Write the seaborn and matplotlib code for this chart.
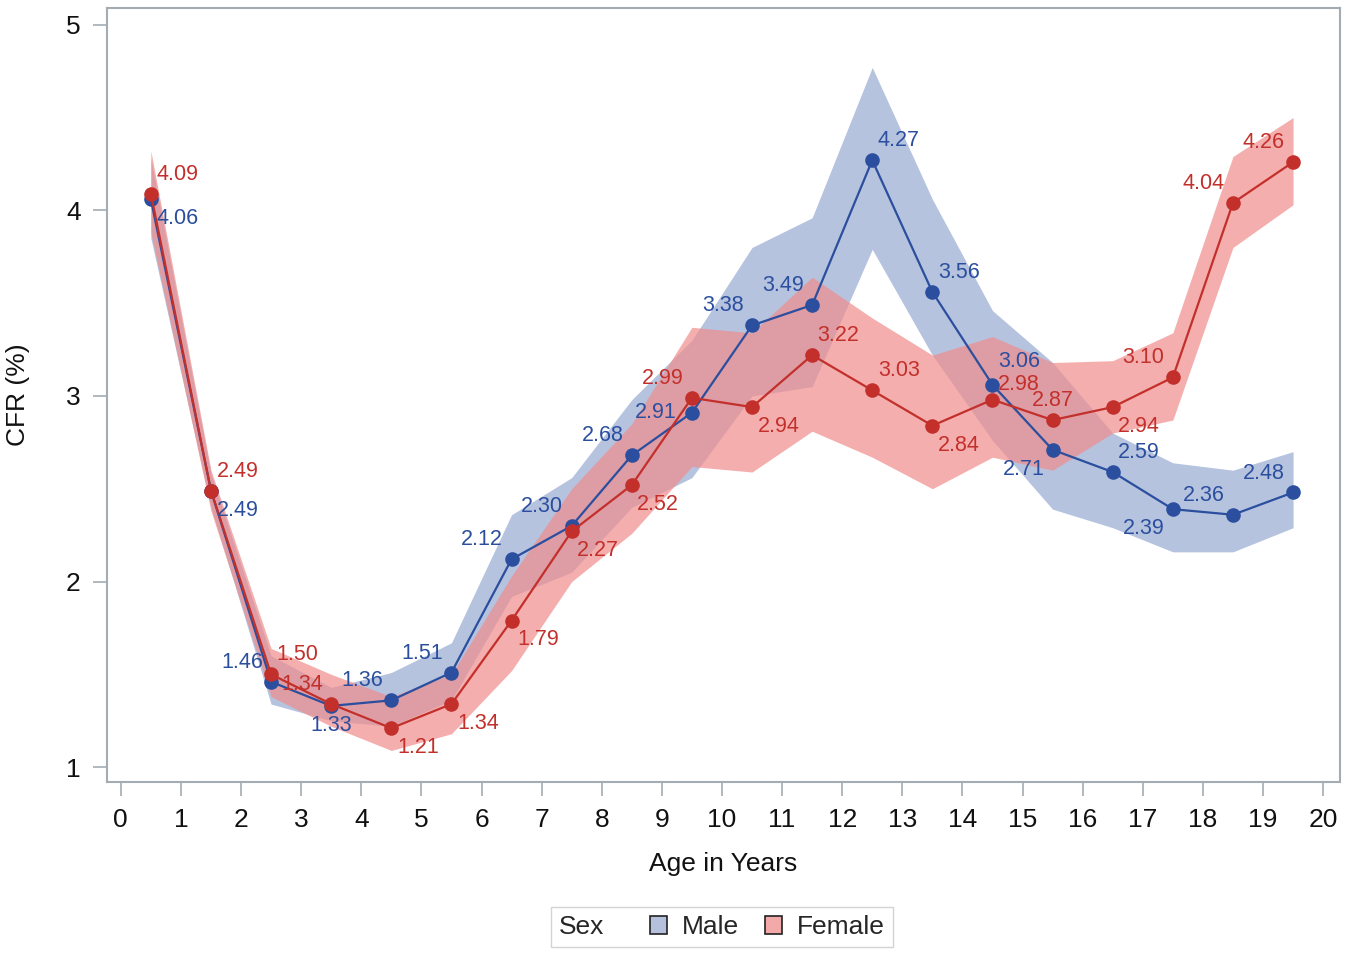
import numpy as np
import pandas as pd
import matplotlib
matplotlib.use("Agg")
import matplotlib.pyplot as plt
from matplotlib.patches import Patch
from matplotlib.offsetbox import HPacker, DrawingArea
import seaborn as sns

# ---------------- data ----------------
age = [0.5, 1.5, 2.5, 3.5, 4.5, 5.5, 6.5, 7.5, 8.5, 9.5,
       10.5, 11.5, 12.5, 13.5, 14.5, 15.5, 16.5, 17.5, 18.5, 19.5]
male_cfr = [4.06, 2.49, 1.46, 1.33, 1.36, 1.51, 2.12, 2.30, 2.68, 2.91,
            3.38, 3.49, 4.27, 3.56, 3.06, 2.71, 2.59, 2.39, 2.36, 2.48]
female_cfr = [4.09, 2.49, 1.50, 1.34, 1.21, 1.34, 1.79, 2.27, 2.52, 2.99,
              2.94, 3.22, 3.03, 2.84, 2.98, 2.87, 2.94, 3.10, 4.04, 4.26]
male_lo = [3.85, 2.40, 1.34, 1.25, 1.22, 1.36, 1.92, 2.05, 2.40, 2.56,
           3.00, 3.05, 3.79, 3.22, 2.76, 2.39, 2.29, 2.16, 2.16, 2.29]
male_hi = [4.28, 2.58, 1.60, 1.43, 1.51, 1.67, 2.36, 2.56, 2.98, 3.30,
           3.80, 3.96, 4.77, 4.06, 3.46, 3.18, 2.80, 2.64, 2.60, 2.70]
female_lo = [3.88, 2.38, 1.38, 1.22, 1.09, 1.18, 1.52, 2.00, 2.26, 2.62,
             2.59, 2.81, 2.67, 2.50, 2.67, 2.60, 2.80, 2.87, 3.80, 4.03]
female_hi = [4.32, 2.60, 1.64, 1.50, 1.38, 1.50, 2.03, 2.50, 2.85, 3.37,
             3.34, 3.64, 3.42, 3.22, 3.32, 3.18, 3.19, 3.34, 4.29, 4.50]
x_ticks = list(range(0, 21))
y_ticks = [1, 2, 3, 4, 5]

# label placement codes (style only)
male_pos = ['rb', 'rb', 'la', 'cb', 'la', 'la', 'la', 'la', 'la', 'l',
            'la', 'la', 'ra', 'ra', 'rah', 'lb', 'ra', 'lb', 'la', 'la']
female_pos = ['ra', 'ra', 'ra', 'la', 'rb', 'rb', 'rb', 'rb', 'rb', 'la',
              'rb', 'ra', 'ra', 'rb', 'ral', 'ca', 'rb', 'la', 'la', 'la']

# ---------------- style ----------------
sns.set_style("white")
plt.rcParams['font.family'] = ['Liberation Sans', 'DejaVu Sans']

male_line = '#2B4F9E'
female_line = '#C3302B'
male_band = '#a9b9da'
female_band = '#f08c8c'

df = pd.DataFrame({
    'Age': age + age,
    'CFR': male_cfr + female_cfr,
    'Sex': ['Male'] * len(age) + ['Female'] * len(age),
})

fig = plt.figure(figsize=(13.49, 9.56), dpi=100)
ax = fig.add_axes([0.0793, 0.182, 0.914, 0.8096])

ax.fill_between(age, male_lo, male_hi, color=male_band, alpha=0.85, lw=0, zorder=1)
ax.fill_between(age, female_lo, female_hi, color=female_band, alpha=0.7, lw=0, zorder=2)

sns.lineplot(data=df, x='Age', y='CFR', hue='Sex', hue_order=['Male', 'Female'],
             palette={'Male': male_line, 'Female': female_line},
             marker='o', markersize=10.5, markeredgewidth=0, linewidth=1.6,
             legend=False, ax=ax, zorder=3)

offs = {
    'ra': ((4, 14), 'left'), 'rb': ((4, -14), 'left'),
    'rah': ((4, 16.5), 'left'), 'ral': ((4, 11), 'left'),
    'la': ((-6, 14), 'right'), 'lb': ((-6, -14), 'right'),
    'ca': ((0, 14), 'center'), 'cb': ((0, -14), 'center'),
    'l': ((-11, 0), 'right'),
}
for vals, pos, col in [(male_cfr, male_pos, male_line), (female_cfr, female_pos, female_line)]:
    for xv, yv, p in zip(age, vals, pos):
        (dx, dy), ha = offs[p]
        ax.annotate(f"{yv:.2f}", (xv, yv), xytext=(dx, dy), textcoords='offset points',
                    ha=ha, va='center', fontsize=15.5, color=col, zorder=4)

ax.set_xlim(-0.23, 20.28)
ax.set_ylim(0.92, 5.09)
ax.set_xticks(x_ticks)
ax.set_yticks(y_ticks)
ax.set_xticklabels([str(t) for t in x_ticks])
ax.set_yticklabels([str(t) for t in y_ticks])

spine_col = '#a3abb3'
for s in ax.spines.values():
    s.set_visible(True)
    s.set_color(spine_col)
    s.set_linewidth(1.5)
ax.tick_params(axis='both', direction='out', length=10, width=1.2, color=spine_col,
               labelsize=19, labelcolor='#111111', pad=9, bottom=True, left=True)

ax.set_xlabel('Age in Years', fontsize=19, labelpad=14, color='#111111')
ax.set_ylabel('CFR (%)', fontsize=19, labelpad=26, color='#111111')

handles = [Patch(facecolor='#b4c0dc', edgecolor='#222222', linewidth=1.2),
           Patch(facecolor='#f4a9a9', edgecolor='#222222', linewidth=1.2)]
leg = fig.legend(handles, ['Male', 'Female'], title='Sex', ncol=2,
                 loc='center', bbox_to_anchor=(0.535, 0.030),
                 fontsize=19, title_fontsize=19, frameon=True, fancybox=False,
                 edgecolor='#c8c8c8', handlelength=0.65, handleheight=0.65,
                 handletextpad=0.55, columnspacing=1.0, borderpad=0.3)
try:
    c = leg.get_children()[0]
    title = c.get_children()[0]
    hpack = c.get_children()[1]
    c._children.remove(title)
    sub = HPacker(children=[title, DrawingArea(14, 1)], align='center', pad=0, sep=0)
    hpack._children.insert(0, sub)
    hpack.sep = 19
    hpack.align = 'center'
except Exception:
    pass

fig.savefig('out.png', dpi=100)
